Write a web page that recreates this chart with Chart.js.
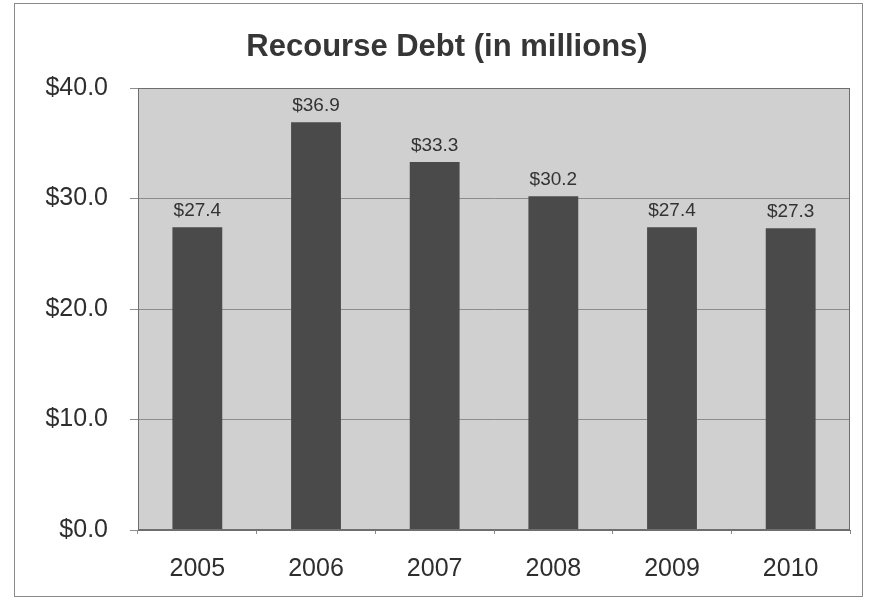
<!DOCTYPE html>
<html>
<head>
<meta charset="utf-8">
<script src="https://cdn.jsdelivr.net/npm/chart.js@4.4.1/dist/chart.umd.min.js"></script>
<style>
  html, body { margin: 0; padding: 0; background: #ffffff; }
  #wrap { width: 876px; height: 600px; position: relative; }
</style>
</head>
<body>
<div id="wrap"><canvas id="c" width="876" height="600"></canvas></div>
<script>
// Recourse debt by year, in millions of dollars
const years = ['2005', '2006', '2007', '2008', '2009', '2010'];
const debt = [27.4, 36.9, 33.3, 30.2, 27.4, 27.3];
const yTicks = [0, 10, 20, 30, 40];
const chartTitle = 'Recourse Debt (in millions)';

const tickFont = { family: '"Liberation Sans", Arial, sans-serif', size: 25 };

// Gray plot panel, its frame, the outer frame and the heading
const panelPlugin = {
  id: 'panel',
  beforeDraw(chart) {
    const { ctx, chartArea: a } = chart;
    ctx.save();
    ctx.fillStyle = '#ffffff';
    ctx.fillRect(0, 0, chart.width, chart.height);
    ctx.strokeStyle = '#8a8a8a';
    ctx.lineWidth = 1;
    ctx.strokeRect(14.5, 3.5, 848, 593);
    ctx.fillStyle = '#d0d0d0';
    ctx.fillRect(a.left, a.top, a.right - a.left, a.bottom - a.top);
    ctx.restore();
  },
  afterDraw(chart) {
    const { ctx, chartArea: a } = chart;
    ctx.save();
    ctx.strokeStyle = '#6e6e6e';
    ctx.lineWidth = 1;
    ctx.strokeRect(a.left + 0.5, a.top + 0.5, a.right - a.left - 1, a.bottom - a.top - 1);
    ctx.font = 'bold 31px "Liberation Sans", Arial, sans-serif';
    ctx.fillStyle = '#363636';
    ctx.textAlign = 'center';
    ctx.textBaseline = 'middle';
    ctx.fillText(chartTitle, 447, 47);
    ctx.restore();
  }
};

// Value labels above each bar
const valueLabels = {
  id: 'valueLabels',
  afterDatasetsDraw(chart) {
    const { ctx } = chart;
    const meta = chart.getDatasetMeta(0);
    ctx.save();
    ctx.font = '19px "Liberation Sans", Arial, sans-serif';
    ctx.fillStyle = '#333333';
    ctx.textAlign = 'center';
    ctx.textBaseline = 'bottom';
    meta.data.forEach((bar, i) => {
      ctx.fillText('$' + debt[i].toFixed(1), bar.x, bar.y - 7);
    });
    ctx.restore();
  }
};

new Chart(document.getElementById('c'), {
  type: 'bar',
  data: {
    labels: years,
    datasets: [{
      data: debt,
      backgroundColor: '#4a4a4a',
      borderWidth: 0,
      barPercentage: 0.42,
      categoryPercentage: 1.0
    }]
  },
  options: {
    responsive: false,
    animation: false,
    layout: { padding: { left: 0, right: 26, top: 88, bottom: 0 } },
    plugins: {
      legend: { display: false },
      tooltip: { enabled: false },
      title: { display: false }
    },
    scales: {
      x: {
        offset: true,
        grid: { display: true, drawOnChartArea: false, offset: true, tickLength: 4, color: '#8a8a8a' },
        border: { display: true, color: '#6e6e6e' },
        ticks: { color: '#2e2e2e', font: tickFont, padding: 20 },
        afterFit(scale) { scale.height = 70; }
      },
      y: {
        min: 0,
        max: 40,
        afterBuildTicks(scale) { scale.ticks = yTicks.map(v => ({ value: v })); },
        grid: { color: '#8c8c8c', tickLength: 8, drawTicks: true },
        border: { display: true, color: '#6e6e6e' },
        ticks: {
          color: '#2e2e2e',
          font: tickFont,
          padding: 22,
          callback: v => '$' + Number(v).toFixed(1)
        },
        afterFit(scale) { scale.width = 138; }
      }
    }
  },
  plugins: [panelPlugin, valueLabels]
});
</script>
</body>
</html>
